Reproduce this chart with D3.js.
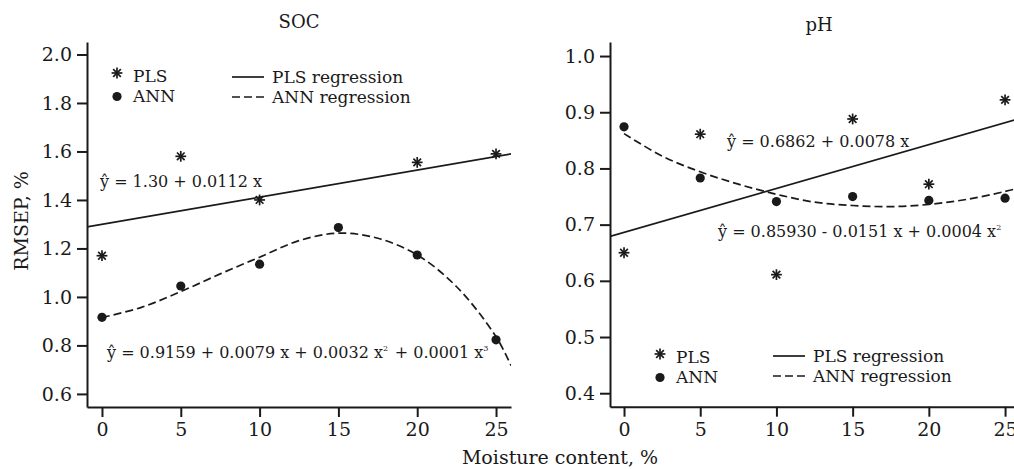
<!DOCTYPE html>
<html>
<head>
<meta charset="utf-8">
<script src="https://cdn.jsdelivr.net/npm/d3@7"></script>
<style>
  body { margin: 0; background: #fff; }
  svg text { font-family: "DejaVu Serif", serif; fill: #1a1a1a; }
</style>
</head>
<body>
<div id="chart"></div>
<script>
// measured values, moisture content in %
const moisture = [0, 5, 10, 15, 20, 25];
const socPls = [1.17, 1.58, 1.40, null, 1.555, 1.59];
const socAnn = [0.916, 1.045, 1.135, 1.286, 1.173, 0.823];
const phPls = [0.650, 0.861, 0.611, 0.888, 0.772, 0.922];
const phAnn = [0.874, 0.783, 0.741, 0.750, 0.743, 0.747];

// regression curves
const socPlsFitX = [-0.95, 25.95];
const socPlsFitY = [1.289, 1.59];
const socAnnFitX = [0, 2.5, 5, 7.5, 10, 12.5, 15, 17.5, 20, 22.5, 25, 25.95];
const socAnnFitY = [0.915, 0.957, 1.022, 1.095, 1.164, 1.232, 1.263, 1.242, 1.173, 1.042, 0.836, 0.717];
const phPlsFitX = [-0.92, 26];
const phPlsFitY = [0.679, 0.889];
const phAnnFitX = [0, 2.5, 5, 7.5, 10, 12.5, 15, 17.5, 20, 22.5, 25, 26];
const phAnnFitY = [0.862, 0.822, 0.794, 0.772, 0.754, 0.740, 0.734, 0.732, 0.736, 0.745, 0.759, 0.766];

const xTicks = [0, 5, 10, 15, 20, 25];
const socTicks = [0.6, 0.8, 1.0, 1.2, 1.4, 1.6, 1.8, 2.0];
const phTicks = [0.4, 0.5, 0.6, 0.7, 0.8, 0.9, 1.0];

const FONT = "'DejaVu Serif', serif";
const W = 1014, H = 469;
const svg = d3.select("#chart").append("svg")
  .attr("width", W).attr("height", H);

const panels = [
  {
    title: "SOC", titleX: 299, titleY: 28,
    x: d3.scaleLinear().domain([-0.95, 25.95]).range([87, 511]),
    y: d3.scaleLinear().domain([0.546, 2.0515]).range([407, 42]),
    yTicks: socTicks, pls: socPls, ann: socAnn,
    plsFit: [socPlsFitX, socPlsFitY], annFit: [socAnnFitX, socAnnFitY],
    legend: { sx: 117, sy: 73, lx: 232, ly: 77, gap: 20 },
    eqs: [
      { x: 100, y: 187, parts: [["ŷ = 1.30 + 0.0112 x"]] },
      { x: 107, y: 358, parts: [["ŷ = 0.9159 + 0.0079 x + 0.0032 x"], ["2", true], [" + 0.0001 x"], ["3", true]] }
    ]
  },
  {
    title: "pH", titleX: 819, titleY: 31,
    x: d3.scaleLinear().domain([-0.92, 26]).range([610, 1020.3]),
    y: d3.scaleLinear().domain([0.376, 1.025]).range([406.7, 42]),
    yTicks: phTicks, pls: phPls, ann: phAnn,
    plsFit: [phPlsFitX, phPlsFitY], annFit: [phAnnFitX, phAnnFitY],
    legend: { sx: 660, sy: 354, lx: 773, ly: 356, gap: 20 },
    eqs: [
      { x: 727, y: 147, parts: [["ŷ = 0.6862 + 0.0078 x"]] },
      { x: 718, y: 237, parts: [["ŷ = 0.85930 - 0.0151 x + 0.0004 x"], ["2", true]] }
    ]
  }
];

function asterisk(g, cx, cy) {
  const r = 5.4;
  [0, 45, 90, 135].forEach(function (a) {
    const t = a * Math.PI / 180;
    g.append("line")
      .attr("x1", cx - r * Math.cos(t)).attr("y1", cy - r * Math.sin(t))
      .attr("x2", cx + r * Math.cos(t)).attr("y2", cy + r * Math.sin(t))
      .attr("stroke", "#1a1a1a").attr("stroke-width", 1.7);
  });
}

panels.forEach(function (p) {
  const g = svg.append("g");

  g.append("text").attr("x", p.titleX).attr("y", p.titleY)
    .attr("text-anchor", "middle").style("font-size", "18px").text(p.title);

  const line = d3.line().x(function (d) { return p.x(d[0]); }).y(function (d) { return p.y(d[1]); });
  const clipId = "clip-" + p.title;
  svg.append("clipPath").attr("id", clipId).append("rect")
    .attr("x", p.x.range()[0]).attr("y", p.y.range()[1])
    .attr("width", p.x.range()[1] - p.x.range()[0]).attr("height", p.y.range()[0] - p.y.range()[1]);

  const plot = g.append("g").attr("clip-path", "url(#" + clipId + ")");
  plot.append("path")
    .datum(d3.zip(p.plsFit[0], p.plsFit[1]))
    .attr("d", line)
    .attr("fill", "none").attr("stroke", "#1a1a1a").attr("stroke-width", 1.7);
  plot.append("path")
    .datum(d3.zip(p.annFit[0], p.annFit[1]))
    .attr("d", line.curve(d3.curveCatmullRom))
    .attr("fill", "none").attr("stroke", "#1a1a1a").attr("stroke-width", 1.7)
    .attr("stroke-dasharray", "8,4");

  moisture.forEach(function (m, i) {
    if (p.pls[i] != null) asterisk(g, p.x(m), p.y(p.pls[i]));
    g.append("circle").attr("cx", p.x(m)).attr("cy", p.y(p.ann[i]))
      .attr("r", 4.6).attr("fill", "#1a1a1a");
  });

  // axes
  const xAxis = g.append("g").attr("transform", "translate(0," + p.y.range()[0] + ")")
    .call(d3.axisBottom(p.x).tickValues(xTicks).tickSize(10).tickSizeOuter(0).tickPadding(6));
  const yAxis = g.append("g").attr("transform", "translate(" + p.x.range()[0] + ",0)")
    .call(d3.axisLeft(p.y).tickValues(p.yTicks).tickFormat(d3.format(".1f")).tickSize(10).tickSizeOuter(0).tickPadding(5));
  [xAxis, yAxis].forEach(function (a) {
    a.attr("font-family", null).attr("font-size", null);
    a.selectAll("path, line").attr("stroke", "#1a1a1a").attr("stroke-width", 2);
    a.selectAll("text").attr("fill", "#1a1a1a").style("font-size", "19px")
      .style("font-family", FONT);
  });

  // legend
  const L = p.legend;
  asterisk(g, L.sx, L.sy);
  g.append("circle").attr("cx", L.sx).attr("cy", L.sy + L.gap + 3.5).attr("r", 4.6).attr("fill", "#1a1a1a");
  g.append("text").attr("x", L.sx + 16).attr("y", L.sy + 9).style("font-size", "17px").text("PLS");
  g.append("text").attr("x", L.sx + 16).attr("y", L.sy + 9 + L.gap).style("font-size", "17px").text("ANN");
  g.append("line").attr("x1", L.lx).attr("x2", L.lx + 32).attr("y1", L.ly).attr("y2", L.ly)
    .attr("stroke", "#1a1a1a").attr("stroke-width", 1.7);
  g.append("line").attr("x1", L.lx).attr("x2", L.lx + 32).attr("y1", L.ly + L.gap).attr("y2", L.ly + L.gap)
    .attr("stroke", "#1a1a1a").attr("stroke-width", 1.7).attr("stroke-dasharray", "8,4");
  g.append("text").attr("x", L.lx + 40).attr("y", L.ly + 5.5).style("font-size", "17px").text("PLS regression");
  g.append("text").attr("x", L.lx + 40).attr("y", L.ly + 5.5 + L.gap).style("font-size", "17px").text("ANN regression");

  // equations
  p.eqs.forEach(function (e) {
    const t = g.append("text").attr("x", e.x).attr("y", e.y).style("font-size", "16px");
    e.parts.forEach(function (part) {
      if (part[1]) {
        t.append("tspan").attr("dy", -7).style("font-size", "8px").text(part[0]);
        t.append("tspan").attr("dy", 7).text("\u200a");
      } else {
        t.append("tspan").text(part[0]);
      }
    });
  });
});

svg.append("text").attr("transform", "translate(28,221) rotate(-90)")
  .attr("text-anchor", "middle").style("font-size", "19px").text("RMSEP, %");
svg.append("text").attr("x", 560).attr("y", 464)
  .attr("text-anchor", "middle").style("font-size", "19px").text("Moisture content, %");
</script>
</body>
</html>
